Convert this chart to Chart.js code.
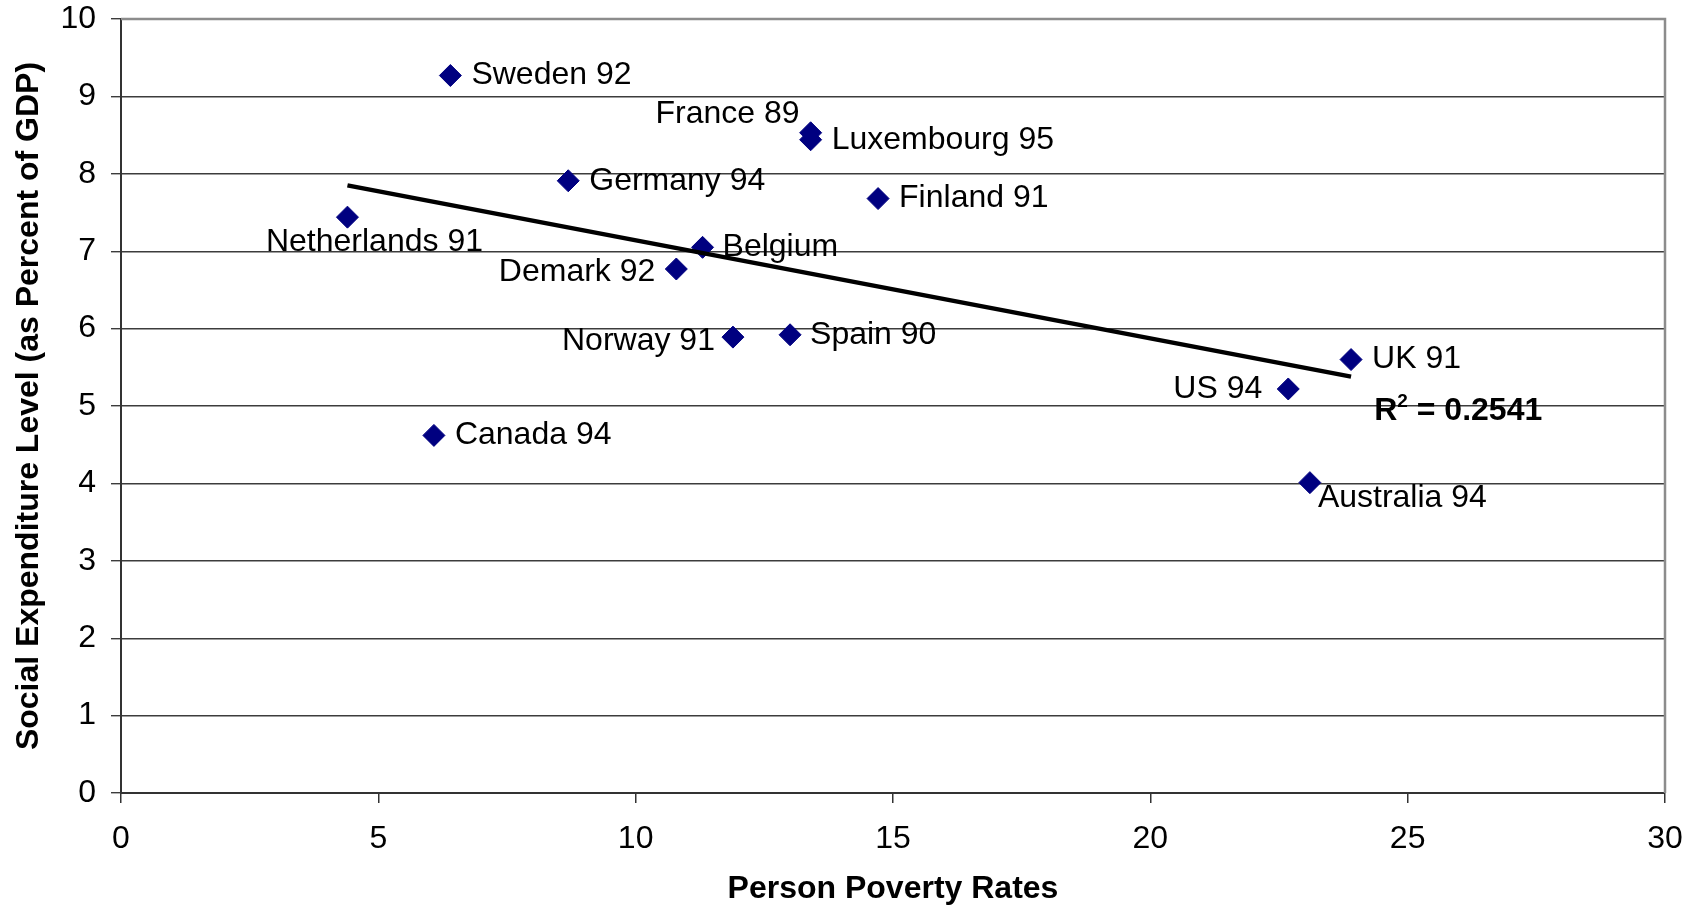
<!DOCTYPE html>
<html>
<head>
<meta charset="utf-8">
<script src="https://cdn.jsdelivr.net/npm/chart.js@4"></script>
<style>
  html, body { margin: 0; background: #fff; }
  #wrap { width: 1696px; height: 913px; }
</style>
</head>
<body>
<div id="wrap"><canvas id="chart" width="1696" height="913"></canvas></div>
<script>
const countries = [
  "Sweden 92", "France 89", "Luxembourg 95", "Germany 94", "Finland 91",
  "Netherlands 91", "Belgium", "Demark 92", "Norway 91", "Spain 90",
  "UK 91", "US 94", "Canada 94", "Australia 94",
];
const poverty = [6.4, 13.4, 13.4, 8.69, 14.71, 4.4, 11.3, 10.79, 11.89, 13.0, 23.9, 22.68, 6.08, 23.1];
const expenditure = [9.27, 8.53, 8.44, 7.91, 7.68, 7.44, 7.05, 6.77, 5.89, 5.92, 5.6, 5.22, 4.62, 4.01];

// linear trendline, endpoints
const trendX = [4.4, 23.9];
const trendY = [7.85, 5.38];
const rSquared = "0.2541";

// where each label sits relative to its marker: [dx, dy, textAlign]
const labelPos = [
  [21, 0, "left"], [-11, -19, "right"], [21, 0, "left"], [21, 0, "left"],
  [21, 0, "left"], [27, 25, "center"], [20, 0, "left"], [-21, 3, "right"],
  [-18, 4, "right"], [20, 0, "left"], [21, 0, "left"], [-26, 0, "right"],
  [21, 0, "left"], [8, 16, "left"],
];

const FONT = "'Liberation Sans', Arial, Helvetica, sans-serif";
Chart.defaults.font.family = FONT;
Chart.defaults.font.size = 32;
Chart.defaults.color = "#000";

const pointLabels = {
  id: "pointLabels",
  beforeDatasetsDraw(chart) {
    const { ctx, chartArea: a } = chart;
    ctx.save();
    ctx.strokeStyle = "#8c8c8c";
    ctx.lineWidth = 2.5;
    ctx.beginPath();
    ctx.moveTo(a.left, a.top);
    ctx.lineTo(a.right, a.top);
    ctx.lineTo(a.right, a.bottom);
    ctx.stroke();
    ctx.restore();
  },
  afterDatasetsDraw(chart) {
    const ctx = chart.ctx;
    const meta = chart.getDatasetMeta(1);
    ctx.save();
    ctx.fillStyle = "#000";
    ctx.textBaseline = "middle";
    ctx.font = "32px " + FONT;
    meta.data.forEach((pt, i) => {
      const [dx, dy, align] = labelPos[i];
      ctx.textAlign = align;
      ctx.fillText(countries[i], pt.x + dx, pt.y + dy);
    });

    // R² annotation
    const sx = chart.scales.x, sy = chart.scales.y;
    let x = sx.getPixelForValue(24.35);
    const y = sy.getPixelForValue(4.82);
    ctx.textAlign = "left";
    ctx.textBaseline = "alphabetic";
    ctx.font = "bold 32px " + FONT;
    ctx.fillText("R", x, y);
    x += ctx.measureText("R").width;
    ctx.font = "bold 19px " + FONT;
    ctx.fillText("2", x, y - 13);
    x += ctx.measureText("2").width;
    ctx.font = "bold 32px " + FONT;
    ctx.fillText(" = " + rSquared, x, y);
    ctx.restore();
  },
};

new Chart(document.getElementById("chart"), {
  type: "scatter",
  data: {
    datasets: [
      {
        label: "Linear trend",
        data: trendX.map((x, i) => ({ x, y: trendY[i] })),
        showLine: true,
        borderColor: "#000",
        borderWidth: 4.5,
        pointRadius: 0,
      },
      {
        label: "Countries",
        data: poverty.map((x, i) => ({ x, y: expenditure[i] })),
        pointStyle: "rectRot",
        pointRadius: 11,
        pointBackgroundColor: "#000080",
        pointBorderColor: "#000080",
        pointBorderWidth: 1,
      },
    ],
  },
  options: {
    responsive: false,
    animation: false,
    devicePixelRatio: 1,
    layout: { padding: { top: 19, right: 31, left: 0, bottom: 0 } },
    plugins: { legend: { display: false }, tooltip: { enabled: false } },
    scales: {
      x: {
        type: "linear",
        min: 0,
        max: 30,
        ticks: { stepSize: 5, padding: 17, color: "#000" },
        grid: { drawOnChartArea: false, tickLength: 10, color: "#333", lineWidth: 1.5 },
        border: { color: "#333", width: 2 },
        title: {
          display: true,
          text: "Person Poverty Rates",
          font: { weight: "bold", size: 32 },
          padding: { top: 0, bottom: 5 },
        },
        afterFit(scale) {
          scale.height = 120;
          scale.paddingLeft = 0;
          scale.paddingRight = 0;
        },
      },
      y: {
        min: 0,
        max: 10,
        ticks: { stepSize: 1, padding: 15, color: "#000" },
        grid: { tickLength: 10, color: "#3c3c3c", lineWidth: 1.4 },
        border: { color: "#333", width: 2 },
        title: {
          display: true,
          text: "Social Expenditure Level (as Percent of GDP)",
          font: { weight: "bold", size: 32 },
          padding: { top: 10, bottom: 0 },
        },
        afterFit(scale) {
          scale.width = 121;
          scale.paddingTop = 0;
          scale.paddingBottom = 0;
        },
      },
    },
  },
  plugins: [pointLabels],
});
</script>
</body>
</html>
